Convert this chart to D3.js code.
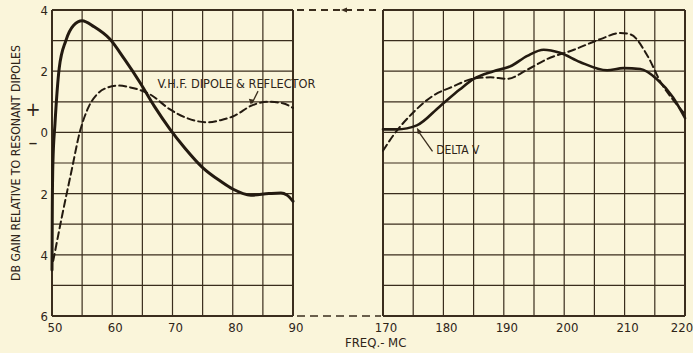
<!DOCTYPE html>
<html>
<head>
<meta charset="utf-8">
<script src="https://cdn.jsdelivr.net/npm/d3@7"></script>
<style>
  body { margin: 0; background: #faf5da; }
  svg { display: block; }
  text { font-family: "DejaVu Sans Condensed", "DejaVu Sans", sans-serif; font-stretch: condensed; fill: #2e2418; }
</style>
</head>
<body>
<div id="chart"></div>
<script>
(function(d3) {
  'use strict';

  // Left panel (50-90 Mc), values in dB
  var deltaLowFreq = [50, 50.05, 50.15, 50.5, 51.2, 52.3, 53.6, 55, 57, 59.6, 62, 64.6, 67, 69.6, 72, 75, 78, 80, 83, 86, 88, 89, 90];
  var deltaLowGain = [-4.5, -2.5, -1, 0.3, 2.1, 3.0, 3.5, 3.65, 3.45, 3.05, 2.4, 1.63, 0.85, 0.1, -0.5, -1.15, -1.6, -1.85, -2.05, -2.0, -1.98, -2.05, -2.25];

  var vhfLowFreq = [50.2, 51.7, 53.3, 54.6, 56, 57.5, 59, 61, 63, 66.3, 69.6, 72, 74, 76, 78, 80, 83.4, 86, 88.3, 90];
  var vhfLowGain = [-4.2, -2.7, -1.2, 0, 0.8, 1.25, 1.45, 1.53, 1.47, 1.24, 0.75, 0.5, 0.37, 0.33, 0.4, 0.52, 0.9, 1.0, 0.95, 0.8];

  // Right panel (170-220 Mc)
  var deltaHighFreq = [170, 172.3, 175.6, 179.4, 182.7, 185, 188.3, 191.1, 193.9, 196.6, 199.3, 202.6, 207.1, 209.8, 212.6, 215.4, 218, 220];
  var deltaHighGain = [0.1, 0.1, 0.23, 0.85, 1.4, 1.75, 2.0, 2.16, 2.5, 2.7, 2.6, 2.3, 2.03, 2.1, 2.07, 1.73, 1.15, 0.47];

  var vhfHighFreq = [170, 171.7, 175, 178.3, 181.6, 185, 187.8, 190.5, 193.9, 197.2, 201.6, 206, 209.3, 211, 213.8, 216, 218, 220];
  var vhfHighGain = [-0.6, -0.1, 0.65, 1.2, 1.5, 1.76, 1.8, 1.75, 2.05, 2.4, 2.7, 3.05, 3.25, 3.2, 2.5, 1.63, 1.07, 0.6];

  var lowTicks = [50, 60, 70, 80, 90];
  var highTicks = [170, 180, 190, 200, 210, 220];
  var gainTicks = [4, 2, 0, -2, -4, -6];

  var width = 693, height = 353;
  var ink = '#3a2d1d';

  var svg = d3.select('#chart').append('svg')
    .attr('width', width)
    .attr('height', height);

  svg.append('rect').attr('width', width).attr('height', height).attr('fill', '#faf5da');

  var y = d3.scaleLinear().domain([-6, 4]).range([316, 10]);
  var xLow = d3.scaleLinear().domain([50, 90]).range([52, 293]);
  var xHigh = d3.scaleLinear().domain([170, 220]).range([383, 685]);

  function grid(x) {
    var g = svg.append('g');
    var d = x.domain();
    g.selectAll('.v').data(d3.range(d[0], d[1] + 1, 5))
      .enter().append('line')
      .attr('x1', function(v) { return x(v); })
      .attr('x2', function(v) { return x(v); })
      .attr('y1', y(4)).attr('y2', y(-6))
      .attr('stroke', ink)
      .attr('stroke-width', function(v) { return (v === d[0] || v === d[1]) ? 2 : 1.2; });
    g.selectAll('.h').data(d3.range(-6, 5, 1))
      .enter().append('line')
      .attr('x1', x(d[0])).attr('x2', x(d[1]))
      .attr('y1', function(v) { return y(v); })
      .attr('y2', function(v) { return y(v); })
      .attr('stroke', ink)
      .attr('stroke-width', function(v) { return (v === 4 || v === -6) ? 2 : 1.2; });
  }
  grid(xLow);
  grid(xHigh);

  // dashed break connectors between the panels
  svg.append('line')
    .attr('x1', xLow(90) + 4).attr('x2', xHigh(170) - 4)
    .attr('y1', y(4)).attr('y2', y(4))
    .attr('stroke', ink).attr('stroke-width', 1.8)
    .attr('stroke-dasharray', '7,5');
  svg.append('path')
    .attr('d', 'M' + (xLow(90) + 48) + ',' + y(4) + 'l6,-2.5v5z')
    .attr('fill', ink);
  svg.append('line')
    .attr('x1', xLow(90) + 4).attr('x2', xHigh(170) - 2)
    .attr('y1', y(-6)).attr('y2', y(-6))
    .attr('stroke', ink).attr('stroke-width', 1.5)
    .attr('stroke-dasharray', '8,5');

  // curves
  function curve(x, fx, gy, dashed, w) {
    var pts = fx.map(function(f, i) { return [f, gy[i]]; });
    var line = d3.line()
      .x(function(p) { return x(p[0]); })
      .y(function(p) { return y(p[1]); })
      .curve(d3.curveMonotoneX);
    svg.append('path')
      .attr('d', line(pts))
      .attr('fill', 'none')
      .attr('stroke', '#231a10')
      .attr('stroke-width', w)
      .attr('stroke-linecap', 'round')
      .attr('stroke-dasharray', dashed ? '7,4' : null);
  }
  curve(xLow, vhfLowFreq, vhfLowGain, true, 2);
  curve(xLow, deltaLowFreq, deltaLowGain, false, 3);
  curve(xHigh, vhfHighFreq, vhfHighGain, true, 2);
  curve(xHigh, deltaHighFreq, deltaHighGain, false, 2.6);

  // x tick labels
  function xLabels(x, ticks) {
    svg.append('g').selectAll('text').data(ticks)
      .enter().append('text')
      .attr('x', function(v, i) { return x(v) + (i === ticks.length - 1 && v > 200 ? -3 : 3); })
      .attr('y', 332)
      .attr('text-anchor', 'middle')
      .attr('font-size', 13)
      .text(function(v) { return v; });
  }
  xLabels(xLow, lowTicks);
  xLabels(xHigh, highTicks);

  // y tick labels (magnitudes only)
  svg.append('g').selectAll('text').data(gainTicks)
    .enter().append('text')
    .attr('x', 48)
    .attr('y', function(v) { return y(v) + 5; })
    .attr('text-anchor', 'end')
    .attr('font-size', 13)
    .text(function(v) { return Math.abs(v); });

  svg.append('text').attr('x', 33).attr('y', y(0.55)).attr('text-anchor', 'middle')
    .attr('font-size', 20).text('+');
  svg.append('text').attr('x', 33).attr('y', y(-0.55)).attr('text-anchor', 'middle')
    .attr('font-size', 20).text('\u2013');

  svg.append('text')
    .attr('transform', 'translate(20,' + y(-1) + ') rotate(-90)')
    .attr('text-anchor', 'middle')
    .attr('font-size', 12)
    .attr('textLength', 236)
    .attr('lengthAdjust', 'spacingAndGlyphs')
    .text('DB GAIN RELATIVE TO RESONANT DIPOLES');

  svg.append('text')
    .attr('x', xLow(90) + 52).attr('y', 347)
    .attr('font-size', 13)
    .text('FREQ.- MC');

  // annotations
  svg.append('text')
    .attr('x', xLow(67.5)).attr('y', y(1.45))
    .attr('font-size', 12)
    .attr('textLength', 158)
    .attr('lengthAdjust', 'spacingAndGlyphs')
    .text('V.H.F. DIPOLE & REFLECTOR');
  svg.append('line')
    .attr('x1', xLow(84.2)).attr('y1', y(1.35))
    .attr('x2', xLow(83.2)).attr('y2', y(0.95))
    .attr('stroke', ink).attr('stroke-width', 1.3);
  svg.append('path')
    .attr('d', 'M' + xLow(83.0) + ',' + y(0.9) + 'l-2,-6l5,1z')
    .attr('fill', ink);

  svg.append('text')
    .attr('x', xHigh(178.8)).attr('y', y(-0.72))
    .attr('font-size', 12)
    .text('DELTA V');
  svg.append('line')
    .attr('x1', xHigh(178.2)).attr('y1', y(-0.62))
    .attr('x2', xHigh(175.8)).attr('y2', y(0.05))
    .attr('stroke', ink).attr('stroke-width', 1.3);
  svg.append('path')
    .attr('d', 'M' + xHigh(175.6) + ',' + y(0.15) + 'l1,6.5l4,-2.5z')
    .attr('fill', ink);
})(window.d3);
</script>
</body>
</html>
